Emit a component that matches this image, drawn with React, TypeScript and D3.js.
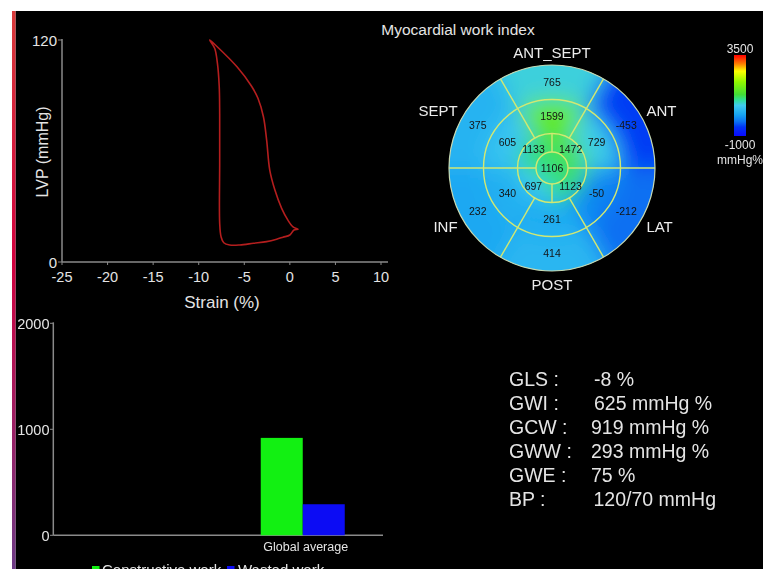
import React from "react";
import * as d3 from "d3";

// ---------- Pressure-strain loop ----------
const strainTicks = [-25, -20, -15, -10, -5, 0, 5, 10];
const lvpTicks = [0, 120];
const loopStrain = [-8.8, -8.0, -5.8, -4.2, -3.5, -2.9, -2.55, -2.2, -1.65, -0.9, -0.2, 0.35, 0.9, 0.45, 0.0, -0.75, -1.45, -2.55, -4.0, -5.5, -6.6, -7.25, -7.55, -7.7, -7.7, -7.7, -7.75, -7.95, -8.25];
const loopPressure = [120, 116.5, 105.5, 95, 88.5, 78.5, 66, 49.5, 39, 29, 22.5, 19, 17.7, 17.3, 14.6, 13.4, 12.3, 11, 10.1, 9.2, 9.2, 10.4, 13.7, 21, 53, 80, 95, 107.5, 115.5];

// ---------- Bull's eye (clockwise from top) ----------
const wallLabels = ["ANT_SEPT", "ANT", "LAT", "POST", "INF", "SEPT"];
const basalValues = [765, -453, -212, 414, 232, 375];
const midValues = [1599, 729, -50, 261, 340, 605];
const apicalValues = [1472, 1123, 697, 1133];
const apexValue = 1106;
const workIndexRange = [-1000, 3500];
const workIndexStops = [-1000, -500, -200, 200, 700, 1000, 1300, 2000, 2600, 3000, 3500];
const workIndexColors = ["#0a0aff", "#0034f4", "#0a72f2", "#18a6f2", "#40cbef", "#30e098", "#42de36", "#90f800", "#ffff00", "#ff8000", "#ff0000"];

// ---------- Constructive / wasted work bars ----------
const workCategories = ["Global average"];
const workSeries = ["Constructive work", "Wasted work"];
const constructiveWork = [919];
const wastedWork = [293];
const workTicks = [0, 1000, 2000];

// ---------- Global indices ----------
const statLabels = ["GLS :", "GWI :", "GCW :", "GWW :", "GWE :", "BP :"];
const statValues = ["-8 %", "625 mmHg %", "919 mmHg %", "293 mmHg %", "75 %", "120/70 mmHg"];

export default function App() {
  const W = 763, H = 569;
  const font = "'Liberation Sans', Arial, Helvetica, sans-serif";
  const txt = "#e4e4e4";
  const axisCol = "#8a8a8a";

  // top-left chart
  const xS = d3.scaleLinear().domain([-25, 10]).range([62, 381]);
  const yS = d3.scaleLinear().domain([0, 120]).range([262, 40]);
  const pts = loopStrain.map((s, i) => [s, loopPressure[i]] as [number, number]);
  const loopPath = d3
    .line<[number, number]>()
    .x((d) => xS(d[0]))
    .y((d) => yS(d[1]))
    .curve(d3.curveCatmullRomClosed.alpha(0.5))(pts) as string;

  // bull's eye
  const color = d3
    .scaleLinear<string>()
    .domain(workIndexStops)
    .range(workIndexColors)
    .interpolate(d3.interpolateRgb)
    .clamp(true);
  const cx = 552, cy = 168;
  const r0 = 16, r1 = 34.5, r2 = 68.5, r3 = 103;
  const arc = d3.arc<any>();
  const deg = Math.PI / 180;
  const segs: { d: string; fill: string; v: number; lx: number; ly: number }[] = [];
  const polar = (r: number, a: number) => [cx + r * Math.sin(a), cy - r * Math.cos(a)];
  basalValues.forEach((v, i) => {
    const s = (i * 60 - 30) * deg, e = (i * 60 + 30) * deg;
    const [lx, ly] = polar((r2 + r3) / 2, (s + e) / 2);
    segs.push({ d: arc({ innerRadius: r2, outerRadius: r3 + 30, startAngle: s, endAngle: e }) as string, fill: color(v), v, lx, ly });
  });
  midValues.forEach((v, i) => {
    const s = (i * 60 - 30) * deg, e = (i * 60 + 30) * deg;
    const [lx, ly] = polar((r1 + r2) / 2, (s + e) / 2);
    segs.push({ d: arc({ innerRadius: r1, outerRadius: r2, startAngle: s, endAngle: e }) as string, fill: color(v), v, lx, ly });
  });
  apicalValues.forEach((v, i) => {
    const s = i * 90 * deg, e = (i * 90 + 90) * deg;
    const [lx, ly] = polar((r0 + r1) / 2 + 1, (s + e) / 2);
    segs.push({ d: arc({ innerRadius: r0, outerRadius: r1, startAngle: s, endAngle: e }) as string, fill: color(v), v, lx, ly });
  });
  segs.push({ d: arc({ innerRadius: 0, outerRadius: r0, startAngle: 0, endAngle: 2 * Math.PI }) as string, fill: color(apexValue), v: apexValue, lx: cx, ly: cy });

  const dividers: [number, number, number][] = [];
  [-30, 30, 150, 210].forEach((a) => dividers.push([a, r1, r3]));
  [90, 270].forEach((a) => dividers.push([a, r0, r3]));
  [0, 180].forEach((a) => dividers.push([a, r0, r1]));

  // colorbar
  const cbY = d3.scaleLinear().domain(workIndexRange).range([136, 55]);

  // bars
  const x0 = d3.scaleBand<string>().domain(["", ...workCategories]).range([53, 386]).padding(0);
  const yB = d3.scaleLinear().domain([0, 2000]).range([535.3, 323.3]);
  const seriesColor = d3.scaleOrdinal<string, string>().domain(workSeries).range(["#12f012", "#0c0cf4"]);
  const groupW = 84;
  const x1 = d3.scaleBand<string>().domain(workSeries).range([0, groupW]).padding(0);

  return (
    <svg width={W} height={H} style={{ position: "absolute", left: 0, top: 0, display: "block" }} fontFamily={font}>
      <defs>
        <linearGradient id="edge" x1="0" y1="0" x2="0" y2="1">
          <stop offset="0" stopColor="#d83a3a" />
          <stop offset="0.45" stopColor="#d2003e" />
          <stop offset="1" stopColor="#6c3a86" />
        </linearGradient>
        <linearGradient id="cbar" x1="0" y1="1" x2="0" y2="0">
          {workIndexStops.map((v, i) => (
            <stop key={i} offset={(v - workIndexRange[0]) / (workIndexRange[1] - workIndexRange[0])} stopColor={workIndexColors[i]} />
          ))}
        </linearGradient>
        <filter id="blur" filterUnits="userSpaceOnUse" x={cx - 160} y={cy - 160} width={320} height={320}>
          <feGaussianBlur stdDeviation="11" />
        </filter>
        <clipPath id="disc">
          <circle cx={cx} cy={cy} r={r3} />
        </clipPath>
      </defs>

      <rect x={0} y={0} width={W} height={H} fill="#ffffff" />
      <rect x={15.5} y={11} width={W - 15.5} height={H - 11} fill="#000000" />
      <rect x={12} y={11} width={3.5} height={H - 11} fill="url(#edge)" />

      {/* ---- Pressure-strain loop ---- */}
      <g>
        <line x1={62} x2={388} y1={262} y2={262} stroke={axisCol} strokeWidth={1.5} />
        <line x1={62} x2={62} y1={39} y2={262} stroke={axisCol} strokeWidth={1.5} />
        {strainTicks.map((t) => (
          <g key={t}>
            <line x1={xS(t)} x2={xS(t)} y1={262} y2={265} stroke={axisCol} strokeWidth={1} />
            <text x={xS(t)} y={282} fill={txt} fontSize={14.5} textAnchor="middle">{t}</text>
          </g>
        ))}
        {lvpTicks.map((t) => (
          <g key={t}>
            <line x1={58} x2={62} y1={yS(t)} y2={yS(t)} stroke={axisCol} strokeWidth={1} />
            <text x={57} y={yS(t) + 5.5} fill={txt} fontSize={15} textAnchor="end">{t}</text>
          </g>
        ))}
        <text x={222} y={308} fill={txt} fontSize={17} textAnchor="middle">Strain (%)</text>
        <text transform="translate(48,152) rotate(-90)" fill={txt} fontSize={16} textAnchor="middle">LVP (mmHg)</text>
        <path d={loopPath} fill="none" stroke="#b41e1e" strokeWidth={1.6} />
      </g>

      {/* ---- Bull's eye ---- */}
      <text x={458} y={35} fill={txt} fontSize={15.5} textAnchor="middle">Myocardial work index</text>
      <g clipPath="url(#disc)">
        <rect x={cx - r3} y={cy - r3} width={2 * r3} height={2 * r3} fill={color(400)} />
        <g filter="url(#blur)">
          {segs.map((s, i) => (
            <path key={i} d={s.d} transform={`translate(${cx},${cy})`} fill={s.fill} />
          ))}
        </g>
      </g>
      <g fill="none" stroke="#d2e872" strokeWidth={1.4}>
        <circle cx={cx} cy={cy} r={r0} />
        <circle cx={cx} cy={cy} r={r1} />
        <circle cx={cx} cy={cy} r={r2} />
        {dividers.map(([a, ra, rb], i) => {
          const [xa, ya] = polar(ra, a * deg);
          const [xb, yb] = polar(rb, a * deg);
          return <line key={i} x1={xa} y1={ya} x2={xb} y2={yb} />;
        })}
      </g>
      <circle cx={cx} cy={cy} r={r3} fill="none" stroke="#c8d8b0" strokeWidth={1.2} />
      {segs.map((s, i) => (
        <text key={i} x={s.lx} y={s.ly + 3.7} fill="#141414" fontSize={10.5} textAnchor="middle">{s.v}</text>
      ))}
      {wallLabels.map((l, i) => {
        const a = i * 60 * deg;
        const sx = Math.sin(a);
        const lx = cx + sx * 109;
        const ly = cy - Math.cos(a) * 116;
        const anchor = Math.abs(sx) < 0.01 ? "middle" : sx > 0 ? "start" : "end";
        return (
          <text key={l} x={lx} y={ly + 5.5} fill="#ececec" fontSize={15} textAnchor={anchor}>{l}</text>
        );
      })}

      {/* colorbar */}
      <rect x={734} y={cbY(workIndexRange[1])} width={12} height={cbY(workIndexRange[0]) - cbY(workIndexRange[1])} fill="url(#cbar)" />
      <text x={740} y={52.5} fill={txt} fontSize={12} textAnchor="middle">{workIndexRange[1]}</text>
      <text x={740} y={149} fill={txt} fontSize={12} textAnchor="middle">{workIndexRange[0]}</text>
      <text x={740} y={164} fill={txt} fontSize={12} textAnchor="middle">mmHg%</text>

      {/* ---- Work bars ---- */}
      <g>
        <line x1={53.3} x2={383} y1={yB(0)} y2={yB(0)} stroke={axisCol} strokeWidth={1.5} />
        <line x1={53.3} x2={53.3} y1={yB(2000) - 1} y2={yB(0)} stroke={axisCol} strokeWidth={1.5} />
        {workTicks.map((t) => (
          <g key={t}>
            <line x1={50} x2={53.3} y1={yB(t)} y2={yB(t)} stroke={axisCol} strokeWidth={1} />
            <text x={49.5} y={yB(t) + 5.5} fill={txt} fontSize={14.5} textAnchor="end">{t}</text>
          </g>
        ))}
        {workCategories.map((c, i) => {
          const center = (x0(c) as number) + x0.bandwidth() / 2;
          const gx = center - groupW / 2;
          const vals = [constructiveWork[i], wastedWork[i]];
          return (
            <g key={c}>
              {workSeries.map((s, j) => (
                <rect key={s} x={gx + (x1(s) as number)} y={yB(vals[j])} width={x1.bandwidth()} height={yB(0) - yB(vals[j])} fill={seriesColor(s)} />
              ))}
              <text x={center + 3} y={551} fill={txt} fontSize={12.5} textAnchor="middle">{c}</text>
            </g>
          );
        })}
        {/* legend (cut by the bottom edge, as in the original) */}
        <rect x={92} y={566} width={7.5} height={8} fill={seriesColor(workSeries[0])} />
        <text x={102} y={575} fill={txt} fontSize={15}>{workSeries[0]}</text>
        <rect x={227} y={566} width={7.5} height={8} fill={seriesColor(workSeries[1])} />
        <text x={238} y={575} fill={txt} fontSize={15}>{workSeries[1]}</text>
      </g>

      {/* ---- Global indices ---- */}
      {statLabels.map((l, i) => (
        <g key={l}>
          <text x={509} y={385.5 + i * 24.1} fill={txt} fontSize={19.5}>{l}</text>
          <text x={[594, 594, 591, 591, 591, 593.5][i]} y={385.5 + i * 24.1} fill={txt} fontSize={19.5}>{statValues[i]}</text>
        </g>
      ))}
    </svg>
  );
}
